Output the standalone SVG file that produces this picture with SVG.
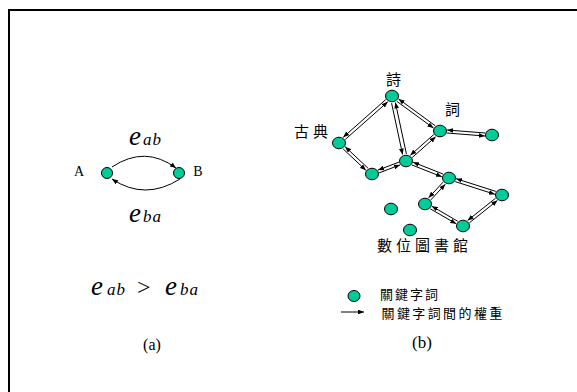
<svg xmlns="http://www.w3.org/2000/svg" width="577" height="392" viewBox="0 0 577 392">
<style>
.node{fill:#00CC99;stroke:#000;stroke-width:1}
.edge{fill:none;stroke:#000;stroke-width:1;marker-end:url(#arr)}
.ser{font-family:"Liberation Serif","Times New Roman",serif;fill:#000}
.it{font-style:italic}
.cjk{font-family:"Noto Sans CJK TC","Noto Sans CJK SC",sans-serif;fill:#000}
</style>
<defs>
<marker id="arr" viewBox="0 0 10 8" refX="10" refY="4" markerWidth="6" markerHeight="4.8" markerUnits="userSpaceOnUse" orient="auto">
<path d="M0,0 L10,4 L0,8 z" fill="#000"/>
</marker>
</defs>
<rect width="577" height="392" fill="#fff"/>
<path d="M9,392 V10 H577" fill="none" stroke="#000" stroke-width="2"/>

<!-- (a) -->
<g id="connectors-a">
<path class="edge" d="M112,167 Q145,145 176,168"/>
<path class="edge" d="M180,179 Q145,201 112,179"/>
</g>
<g id="nodeA"><ellipse class="node" cx="107" cy="173" rx="5.5" ry="5.5"/><text class="ser" x="79" y="176" font-size="14" text-anchor="middle">A</text></g>
<g id="nodeB"><ellipse class="node" cx="179" cy="173" rx="5.5" ry="5.5"/><text class="ser" x="198" y="176" font-size="14" text-anchor="middle">B</text></g>
<g id="label-eab"><text class="ser it" x="129" y="145"><tspan font-size="27">e</tspan><tspan font-size="17" dx="2" letter-spacing="1">ab</tspan></text></g>
<g id="label-eba"><text class="ser it" x="129" y="222"><tspan font-size="27">e</tspan><tspan font-size="17" dx="2" letter-spacing="1">ba</tspan></text></g>
<g id="ineq"><text class="ser" y="295"><tspan class="it" x="91" font-size="27">e</tspan><tspan class="it" x="107" font-size="17" letter-spacing="1">ab</tspan><tspan x="137" font-size="24">&gt;</tspan><tspan class="it" x="165" font-size="27">e</tspan><tspan class="it" x="180" font-size="17" letter-spacing="1">ba</tspan></text></g>
<text class="ser" x="152" y="350" font-size="16" text-anchor="middle">(a)</text>

<!-- (b) -->
<g id="connectors-b">
<path class="edge" d="M385.8,99.5 L343.2,137.3"/>
<path class="edge" d="M345.2,139.5 L387.8,101.8"/>
<path class="edge" d="M391.6,103.2 L402.6,154.5"/>
<path class="edge" d="M406.4,153.9 L395.4,102.5"/>
<path class="edge" d="M396.8,101.3 L433.5,128.1"/>
<path class="edge" d="M435.2,125.7 L398.5,98.9"/>
<path class="edge" d="M446.9,133.0 L484.9,136.0"/>
<path class="edge" d="M485.1,133.0 L447.1,130.0"/>
<path class="edge" d="M433.8,134.5 L410.3,155.3"/>
<path class="edge" d="M412.2,157.5 L435.7,136.8"/>
<path class="edge" d="M343.1,148.9 L365.9,170.3"/>
<path class="edge" d="M367.9,168.1 L345.1,146.7"/>
<path class="edge" d="M379.1,172.9 L400.0,164.9"/>
<path class="edge" d="M399.0,162.1 L378.0,170.1"/>
<path class="edge" d="M412.0,165.0 L441.9,176.8"/>
<path class="edge" d="M443.0,174.0 L413.1,162.2"/>
<path class="edge" d="M455.2,181.6 L494.9,194.3"/>
<path class="edge" d="M495.8,191.4 L456.1,178.7"/>
<path class="edge" d="M443.1,182.1 L428.6,197.8"/>
<path class="edge" d="M430.8,199.9 L445.3,184.2"/>
<path class="edge" d="M430.3,208.8 L456.2,223.8"/>
<path class="edge" d="M457.7,221.2 L431.8,206.2"/>
<path class="edge" d="M469.4,222.8 L497.4,200.5"/>
<path class="edge" d="M495.6,198.2 L467.6,220.5"/>
</g>
<g id="n-shi"><ellipse class="node" cx="392" cy="96" rx="6.5" ry="5.8"/><text class="cjk" x="386" y="85" font-size="15">詩</text></g>
<g id="n-ci"><ellipse class="node" cx="440" cy="131" rx="6.5" ry="5.8"/><text class="cjk" x="445" y="115" font-size="15">詞</text></g>
<g id="n-r1"><ellipse class="node" cx="492" cy="135" rx="6.5" ry="5.8"/></g>
<g id="n-gudian"><ellipse class="node" cx="339" cy="143" rx="6.5" ry="5.8"/><text class="cjk" x="294" y="136.5" font-size="15" letter-spacing="4">古典</text></g>
<g id="n-l"><ellipse class="node" cx="372" cy="174" rx="6.5" ry="5.8"/></g>
<g id="n-m"><ellipse class="node" cx="406" cy="161" rx="6.5" ry="5.8"/></g>
<g id="n-n"><ellipse class="node" cx="449" cy="178" rx="6.5" ry="5.8"/></g>
<g id="n-rr"><ellipse class="node" cx="502" cy="195" rx="6.5" ry="5.8"/></g>
<g id="n-p"><ellipse class="node" cx="425" cy="204" rx="6.5" ry="5.8"/></g>
<g id="n-q"><ellipse class="node" cx="463" cy="226" rx="6.5" ry="5.8"/></g>
<g id="n-i1"><ellipse class="node" cx="391" cy="209" rx="6.5" ry="5.8"/></g>
<g id="n-i2"><ellipse class="node" cx="410" cy="230" rx="6.5" ry="5.8"/><text class="cjk" x="377" y="250.5" font-size="15" letter-spacing="4">數位圖書館</text></g>

<g id="legend">
<ellipse class="node" cx="354" cy="296" rx="6" ry="5.5"/>
<text class="cjk" x="380" y="298.5" font-size="13" letter-spacing="2">關鍵字詞</text>
<path class="edge" d="M341,312 L364,312"/>
<text class="cjk" x="381.5" y="318" font-size="13" letter-spacing="2.4">關鍵字詞間的權重</text>
</g>
<text class="ser" x="422" y="348" font-size="17" text-anchor="middle">(b)</text>
</svg>
